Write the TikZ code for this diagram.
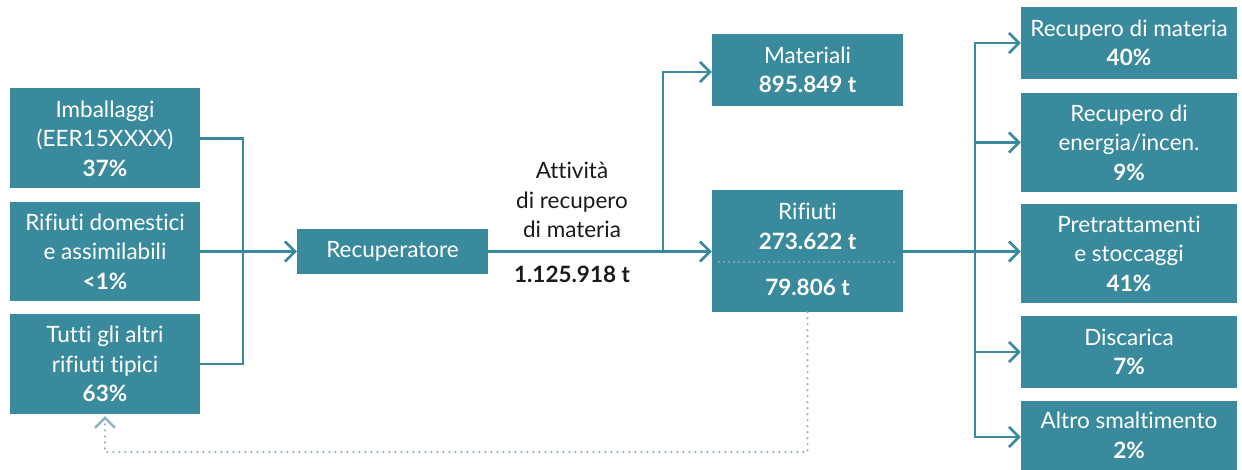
\documentclass[tikz,border=0pt]{standalone}
\usepackage{fontspec}
\setmainfont{Lato}[Ligatures=NoCommon]
\usetikzlibrary{arrows.meta}
\definecolor{teal}{HTML}{3A8A9E}
\definecolor{dotc}{HTML}{8DB3C2}
\definecolor{ink}{HTML}{1A1A1A}
\begin{document}
\begin{tikzpicture}[x=1pt,y=-1pt,
  box/.style={fill=teal,draw=none,text=white,align=center,inner sep=0pt,font=\fontsize{22.5}{29.5}\selectfont},
  flow/.style={draw=teal,line width=2.6pt},
  arr/.style={flow,-{Straight Barb[length=10pt,width=20pt]}},
  dotline/.style={draw=dotc,line width=2.4pt,line cap=round,dash pattern=on 0pt off 6pt},
  lbl/.style={text=ink,align=center,inner sep=0pt,font=\fontsize{22.5}{29.5}\selectfont}]
\useasboundingbox (0,0) rectangle (1242,470);
% left boxes
\node[box,minimum width=190pt,minimum height=100pt] (imb) at (105,138.5) {Imballaggi\\(EER15XXXX)\\\textbf{37\%}};
\node[box,minimum width=190pt,minimum height=99pt] (dom) at (105,251.5) {Rifiuti domestici\\e assimilabili\\\textbf{<1\%}};
\node[box,minimum width=190pt,minimum height=100pt] (tut) at (105,364) {Tutti gli altri\\rifiuti tipici\\\textbf{63\%}};
% centre
\node[box,minimum width=191pt,minimum height=45pt] (rec) at (392.5,251.5) {Recuperatore};
\node[box,minimum width=191pt,minimum height=72pt] (mat) at (807.5,70) {Materiali\\\textbf{895.849 t}};
\node[box,minimum width=191pt,minimum height=122pt] (rif) at (807.5,251) {};
\node[box] (rift) at (807.5,226.5) {Rifiuti\\\textbf{273.622 t}};
\node[box] (rifb) at (807.5,287) {\textbf{79.806 t}};
\coordinate (sepl) at (719,262);
\coordinate (sepr) at (898,262);
\draw[draw=dotc!80!white,line width=1.8pt,line cap=round,dash pattern=on 0pt off 5pt] (sepl) -- (sepr);
% right boxes
\node[box,minimum width=216pt,minimum height=72pt] (r1) at (1129,43) {Recupero di materia\\\textbf{40\%}};
\node[box,minimum width=216pt,minimum height=99pt] (r2) at (1129,142.5) {Recupero di\\energia/incen.\\\textbf{9\%}};
\node[box,minimum width=216pt,minimum height=99pt] (r3) at (1129,253.5) {Pretrattamenti\\e stoccaggi\\\textbf{41\%}};
\node[box,minimum width=216pt,minimum height=72pt] (r4) at (1129,352) {Discarica\\\textbf{7\%}};
\node[box,minimum width=216pt,minimum height=69pt] (r5) at (1129,435.5) {Altro smaltimento\\\textbf{2\%}};
% labels
\node[lbl] (att) at (572,200) {Attività\\di recupero\\di materia};
\node[lbl] (qty) at (572,274) {\textbf{1.125.918 t}};
% connectors
\coordinate (j1) at (243,251.5);
\coordinate (j2) at (663,251.5);
\coordinate (j3) at (975,251.5);
\draw[flow] (imb.east) -| (j1);
\draw[flow] (tut.east) -| (j1);
\draw[arr] (dom.east) -- (rec.west);
\draw[arr] (rec.east) -- (rif.west |- rec.east);
\draw[arr] (j2) |- ([yshift=-2pt]mat.west);
\draw[flow] (rif.east |- j3) -- (j3);
\draw[arr] (j3) |- (r1.west);
\draw[arr] (j3) |- (r2.west);
\draw[arr] (j3) -- (r3.west |- j3);
\draw[arr] (j3) |- (r4.west);
\draw[arr] (j3) |- ([yshift=-1.5pt]r5.west);
% feedback dotted
\coordinate (fb) at (807.5,452);
\draw[dotline,-{Straight Barb[length=10pt,width=20pt,line cap=butt]}] (rif.south) -- (fb) -| ([yshift=-2pt]tut.south);
\end{tikzpicture}
\end{document}
